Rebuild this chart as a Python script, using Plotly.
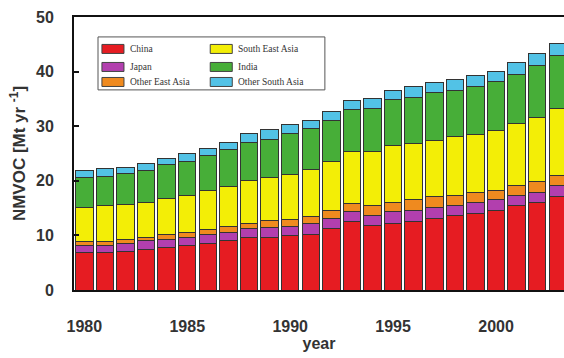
import plotly.graph_objects as go

years = list(range(1980, 2004))

china = [6.8, 6.8, 7.0, 7.4, 7.8, 8.1, 8.5, 9.0, 9.6, 9.6, 9.9, 10.2,
         11.2, 12.5, 11.8, 12.2, 12.6, 13.1, 13.7, 14.1, 14.6, 15.5, 16.0, 17.2]
japan = [1.3, 1.3, 1.5, 1.6, 1.5, 1.5, 1.6, 1.5, 1.7, 1.8, 1.7, 2.0,
         1.9, 1.8, 1.9, 2.1, 2.0, 2.1, 1.8, 2.0, 2.0, 1.9, 1.9, 2.0]
other_east_asia = [0.7, 0.7, 0.8, 0.7, 0.8, 0.9, 0.9, 1.1, 0.9, 1.3, 1.3, 1.3,
                   1.5, 1.6, 1.7, 1.7, 2.0, 1.9, 1.9, 1.8, 1.7, 1.8, 1.9, 1.8]
south_east_asia = [6.4, 6.7, 6.4, 6.3, 6.7, 6.9, 7.2, 7.3, 7.9, 7.9, 8.3, 8.6,
                   9.0, 9.5, 10.0, 10.4, 10.3, 10.3, 10.8, 10.6, 11.0, 11.3, 11.8, 12.3]
india = [5.4, 5.3, 5.6, 5.8, 6.1, 6.2, 6.5, 6.8, 6.9, 7.0, 7.4, 7.5,
         7.5, 7.6, 7.8, 8.5, 8.4, 8.7, 8.4, 8.8, 8.8, 8.9, 9.5, 9.7]
other_south_asia = [1.2, 1.4, 1.2, 1.4, 1.2, 1.4, 1.2, 1.4, 1.6, 1.8, 1.7, 1.5,
                    1.6, 1.7, 1.8, 1.7, 1.9, 1.9, 2.0, 1.9, 2.0, 2.2, 2.2, 2.2]

series = [
    ("China", china, "#e61c22"),
    ("Japan", japan, "#b23fae"),
    ("Other East Asia", other_east_asia, "#ef8a1f"),
    ("South East Asia", south_east_asia, "#f3ee06"),
    ("India", india, "#47ae38"),
    ("Other South Asia", other_south_asia, "#52c2e6"),
]

x_ticks = [1980, 1985, 1990, 1995, 2000]
y_ticks = [0, 10, 20, 30, 40, 50]

fig = go.Figure()
for name, vals, color in series:
    fig.add_trace(go.Bar(
        x=years, y=vals, name=name,
        marker=dict(color=color, line=dict(color="#333333", width=1)),
        showlegend=False,
    ))

# Boxed two-column key in the upper left of the plot area
legend_order = [0, 3, 1, 4, 2, 5]
row_y = [0.883, 0.817, 0.762]
col_x = [0.057, 0.278]
shapes = [dict(type="rect", xref="paper", yref="paper",
               x0=0.049, x1=0.512, y0=0.733, y1=0.927,
               line=dict(color="#555555", width=1), fillcolor="white")]
annotations = []
for slot, idx in enumerate(legend_order):
    name, _, color = series[idx]
    col, row = slot % 2, slot // 2
    sx0 = col_x[col]
    yc = row_y[row]
    shapes.append(dict(type="rect", xref="paper", yref="paper",
                       x0=sx0, x1=sx0 + 0.045, y0=yc - 0.0165, y1=yc + 0.0165,
                       line=dict(color="#444444", width=1), fillcolor=color))
    annotations.append(dict(xref="paper", yref="paper", x=sx0 + 0.053, y=yc,
                            text=name, showarrow=False, xanchor="left",
                            yanchor="middle",
                            font=dict(family="Liberation Serif", size=9.5,
                                      color="#333333")))

fig.update_layout(
    width=564, height=358,
    margin=dict(l=74, r=0, t=17, b=68),
    paper_bgcolor="white", plot_bgcolor="white",
    barmode="stack", bargap=0.15,
    shapes=shapes, annotations=annotations,
    font=dict(family="Liberation Sans", color="#2a2a2a"),
)
fig.update_xaxes(
    range=[1979.5, 2003.3], tickvals=x_ticks, ticks="",
    showgrid=False, zeroline=False,
    showline=True, linecolor="#111111", linewidth=2, mirror=True,
    tickfont=dict(size=16, family="Liberation Sans", weight="bold",
                  color="#333333"),
    ticklabelstandoff=21,
    title=dict(text="year", font=dict(size=16, weight="bold", color="#333333"),
               standoff=3),
)
fig.update_yaxes(
    range=[0, 50], tickvals=y_ticks, ticks="inside", ticklen=5,
    tickwidth=2, tickcolor="#111111",
    showgrid=False, zeroline=False,
    showline=True, linecolor="#111111", linewidth=2,
    tickfont=dict(size=16, family="Liberation Sans", weight="bold",
                  color="#333333"),
    ticklabelstandoff=15,
    title=dict(text="NMVOC [Mt yr <sup>-1</sup>]",
               font=dict(size=17, weight="bold", color="#333333"),
               standoff=6),
)

fig.write_html("out.html")
